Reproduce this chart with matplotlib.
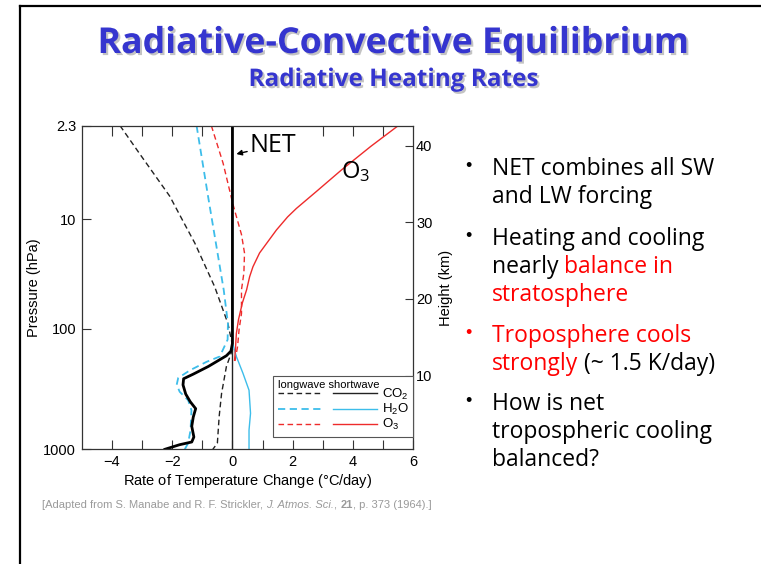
import matplotlib
matplotlib.use('Agg')
import matplotlib.pyplot as plt
import matplotlib.patheffects as pe
from matplotlib.lines import Line2D
from matplotlib.legend_handler import HandlerTuple

plt.rcParams['font.family'] = ['Liberation Sans', 'DejaVu Sans']
plt.rcParams['mathtext.default'] = 'regular'

# heating rates (deg C/day) against height (km)
co2_lw_rate = [-3.73, -3.09, -2.08, -1.66, -1.25, -0.59, -0.15, 0.02, -0.2, -0.36, -0.44, -0.5, -0.65]
co2_lw_z = [42.6, 39.0, 33.4, 30.3, 27.3, 21.6, 16.8, 13.6, 11.2, 7.7, 4.7, 1.2, 0.4]

h2o_lw_rate = [-1.19, -0.81, -0.29, -0.15, -0.16, -0.42, -0.86, -1.41, -1.8, -1.85, -1.75, -1.47, -1.36, -1.39, -1.47, -1.58]
h2o_lw_z = [42.6, 33.4, 21.2, 16.8, 14.7, 12.5, 11.8, 10.7, 9.7, 8.8, 7.9, 6.8, 5.5, 2.9, 1.2, 0.4]

o3_lw_rate = [-0.7, -0.31, 0.02, 0.3, 0.4, 0.38, 0.3, 0.3, 0.22, 0.17, 0.08]
o3_lw_z = [42.6, 37.7, 32.3, 28.4, 26.0, 23.4, 21.2, 18.1, 16.0, 13.8, 11.8]

co2_sw_rate = [0.0, 0.0]
co2_sw_z = [42.6, 0.4]

h2o_sw_rate = [0.02, 0.13, 0.35, 0.55, 0.6, 0.55, 0.55]
h2o_sw_z = [14.0, 12.5, 10.3, 8.1, 5.1, 2.9, 0.4]

o3_sw_rate = [5.5, 4.59, 3.61, 2.78, 2.12, 1.83, 1.46, 1.18, 0.9, 0.68, 0.57, 0.47,
              0.33, 0.2, 0.13, 0.1, 0.07]
o3_sw_z = [42.6, 39.9, 36.8, 34.0, 31.8, 30.7, 29.0, 27.5, 26.0, 24.2, 22.9, 21.2,
           19.5, 17.3, 15.5, 13.5, 12.0]

net_rate = [0.0, 0.0, -0.05, -0.2, -0.8, -1.3, -1.62, -1.64, -1.55, -1.4, -1.22, -1.3, -1.35, -1.28, -1.35, -1.75, -2.24]
net_z = [42.6, 14.2, 13.2, 12.6, 11.2, 10.2, 9.6, 8.8, 7.6, 6.6, 5.7, 4.6, 3.4, 2.0, 1.35, 1.0, 0.4]

# pressure levels shown on the left axis and the heights they sit at
pressure_labels = ['2.3', '10', '100', '1000']
pressure_heights = [42.6, 30.4, 16.1, 0.4]
height_ticks = [10, 20, 30, 40]

gas_labels = ['CO$_2$', 'H$_2$O', 'O$_3$']

BLACK = '#222222'
CYAN = '#3DBDEA'
RED = '#EE2B2B'
LW_DASH = (0, (4, 2.5))

fig = plt.figure(figsize=(7.61, 5.64), dpi=100)
ax = fig.add_axes([0.1074, 0.2034, 0.4357, 0.5738])

co2_lw, = ax.plot(co2_lw_rate, co2_lw_z, color=BLACK, lw=1.0, ls=LW_DASH)
h2o_lw, = ax.plot(h2o_lw_rate, h2o_lw_z, color=CYAN, lw=1.3, ls=LW_DASH)
o3_lw, = ax.plot(o3_lw_rate, o3_lw_z, color=RED, lw=1.0, ls=LW_DASH)
co2_sw, = ax.plot(co2_sw_rate, co2_sw_z, color=BLACK, lw=1.0)
h2o_sw, = ax.plot(h2o_sw_rate, h2o_sw_z, color=CYAN, lw=1.0)
o3_sw, = ax.plot(o3_sw_rate, o3_sw_z, color=RED, lw=1.0)
ax.plot(net_rate, net_z, color='black', lw=2.0, solid_joinstyle='round')

ax.set_xlim(-5, 6)
ax.set_ylim(0.4, 42.6)

ax.set_xticks([-4, -2, 0, 2, 4, 6])
ax.set_xticks([-3, -1, 1, 3, 5], minor=True)
ax.set_yticks(pressure_heights)
ax.set_yticklabels(pressure_labels)
ax.tick_params(which='both', direction='in', length=6.7, width=0.8, labelsize=10.5, color='#333333')
ax.tick_params(axis='x', pad=4)
ax.tick_params(axis='y', pad=4)
for s in ax.spines.values():
    s.set_color('#333333')
    s.set_linewidth(0.9)

ax.set_xlabel('Rate of Temperature Change ($\\degree$C/day)', fontsize=10.5, labelpad=2)
ax.set_ylabel('Pressure (hPa)', fontsize=10.5, labelpad=2)

# top ticks, left out where the NET label sits
top = ax.secondary_xaxis('top')
top.set_xticks([-4, -3, -2, -1, 3, 4, 5])
top.tick_params(direction='in', length=7, width=0.8, labeltop=False, color='#333333')
top.spines['top'].set_visible(False)

right = ax.secondary_yaxis('right')
right.set_yticks(height_ticks)
right.tick_params(direction='in', length=6, width=0.8, labelsize=10.5, pad=2, color='#333333')
right.set_ylabel('Height (km)', fontsize=10.5, labelpad=5)
right.spines['right'].set_visible(False)

ax.annotate('NET', xy=(0.13, 38.9), xytext=(0.58, 39.2), fontsize=18, family='Open Sans',
            ha='left', va='baseline',
            arrowprops=dict(arrowstyle='-|>', color='black', lw=1.0, mutation_scale=8,
                            shrinkA=0, shrinkB=0, relpos=(0.06, 0.3)))
ax.text(3.6, 36.6, 'O$_3$', fontsize=17, family='Open Sans', ha='left', va='center')

leg = ax.legend([(co2_lw, co2_sw), (h2o_lw, h2o_sw), (o3_lw, o3_sw)], gas_labels,
                handler_map={tuple: HandlerTuple(ndivide=None, pad=0.95)},
                title='longwave shortwave', alignment='left',
                loc='lower right', bbox_to_anchor=(1.0, 0.038), borderaxespad=0,
                fontsize=9.5, title_fontsize=8, handlelength=7.5, handletextpad=0.4,
                labelspacing=0.0, borderpad=0.35, fancybox=False,
                edgecolor='#555555', framealpha=1)
leg.get_frame().set_linewidth(0.8)
# header sits tight on top of the first row
leg._legend_box.sep = -2.4

# slide frame
fig.add_artist(Line2D([20 / 761, 20 / 761], [0, 1 - 6 / 564], transform=fig.transFigure, color='black', lw=1.6))
fig.add_artist(Line2D([20 / 761, 1], [1 - 6 / 564, 1 - 6 / 564], transform=fig.transFigure, color='black', lw=1.6))

shadow = [pe.withSimplePatchShadow(offset=(1.5, -1.5), shadow_rgbFace='#888888', alpha=0.5)]
fig.text(392 / 761, 1 - 53 / 564, 'Radiative-Convective Equilibrium', ha='center', va='baseline',
         fontsize=25.7, fontweight='bold', family='Open Sans', color='#3535CF', path_effects=shadow)
fig.text(393 / 761, 1 - 86 / 564, 'Radiative Heating Rates', ha='center', va='baseline',
         fontsize=17.5, fontweight='bold', family='Open Sans', color='#3535CF', path_effects=shadow)


def slide_line(x, y, parts, size=16.5, family='Open Sans'):
    # pieces of one line, each placed right after the previous one on the same baseline
    text, colour = parts[0][:2]
    style = parts[0][2] if len(parts[0]) > 2 else {}
    t = fig.text(x / 761, 1 - y / 564, text, color=colour, fontsize=size, family=family,
                 va='baseline', **style)
    for part in parts[1:]:
        text, colour = part[:2]
        style = part[2] if len(part) > 2 else {}
        t = ax.annotate(text, xy=(1, 0), xycoords=t, ha='left', va='bottom', color=colour,
                        fontsize=size, family=family, annotation_clip=False, **style)
    return t


bullets = [
    (175, 'black', [[('NET combines all SW', 'black')], [('and LW forcing', 'black')]]),
    (245, 'black', [[('Heating and cooling', 'black')],
                    [('nearly ', 'black'), ('balance in', 'red')],
                    [('stratosphere', 'red')]]),
    (342, 'red', [[('Troposphere cools', 'red')],
                  [('strongly', 'red'), (' (~ 1.5 K/day)', 'black')]]),
    (410, 'black', [[('How is net', 'black')], [('tropospheric cooling', 'black')],
                    [('balanced?', 'black')]]),
]
for y0, dot_colour, lines in bullets:
    fig.text(465 / 761, 1 - (y0 - 4) / 564, '\u2022', color=dot_colour, fontsize=13, va='baseline')
    for i, parts in enumerate(lines):
        slide_line(492, y0 + 28 * i, parts)

cite = [('[Adapted from S. Manabe and R. F. Strickler, ', '#9a9a9a'),
        ('J. Atmos. Sci.', '#9a9a9a', {'style': 'italic'}),
        (', ', '#9a9a9a'),
        ('21', '#9a9a9a', {'weight': 'bold'}),
        (', p. 373 (1964).]', '#9a9a9a')]
slide_line(42, 508, cite, size=8, family='Liberation Sans')

fig.savefig('out.png', dpi=100)
